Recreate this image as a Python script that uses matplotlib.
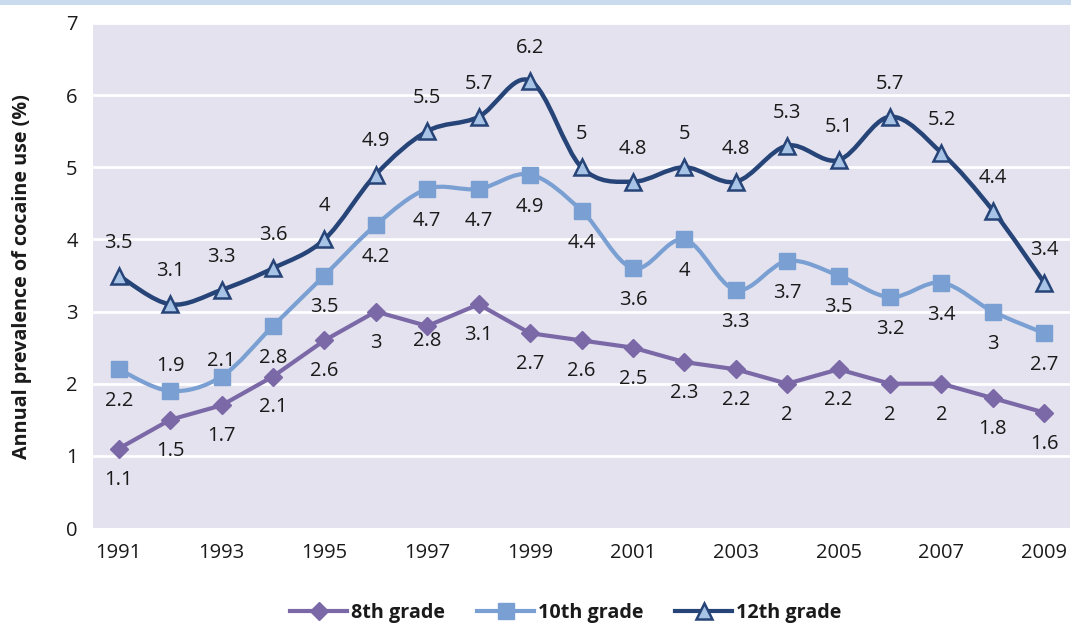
#!/usr/bin/env python3

"""
Annual prevalence of cocaine use by grade, 1991-2009
"""

import numpy as np
import matplotlib.pyplot as plt
from matplotlib.path import Path
from matplotlib.patches import PathPatch, Rectangle
from matplotlib.lines import Line2D

plt.rcParams['font.family'] = ['Open Sans', 'DejaVu Sans']

# Data
years = list(range(1991, 2010))
grade8 = [1.1, 1.5, 1.7, 2.1, 2.6, 3.0, 2.8, 3.1, 2.7, 2.6,
          2.5, 2.3, 2.2, 2.0, 2.2, 2.0, 2.0, 1.8, 1.6]
grade10 = [2.2, 1.9, 2.1, 2.8, 3.5, 4.2, 4.7, 4.7, 4.9, 4.4,
           3.6, 4.0, 3.3, 3.7, 3.5, 3.2, 3.4, 3.0, 2.7]
grade12 = [3.5, 3.1, 3.3, 3.6, 4.0, 4.9, 5.5, 5.7, 6.2, 5.0,
           4.8, 5.0, 4.8, 5.3, 5.1, 5.7, 5.2, 4.4, 3.4]
series_names = ['8th grade', '10th grade', '12th grade']

# Colours
c8 = '#7b69a7'
c10 = '#7a9fd2'
c12 = '#264478'
tri_fill = '#a7c3e5'
bg = '#e3e2ee'
txt = '#1a1a1a'

fs_tick = 14.5
fs_lab = 14.5


def smooth_path(x, y):
    """Excel-like smoothed line (Catmull-Rom as cubic Bezier)"""
    pts = np.column_stack([x, y]).astype(float)
    n = len(pts)
    verts = [pts[0]]
    codes = [Path.MOVETO]
    for i in range(n - 1):
        p0 = pts[i - 1] if i > 0 else pts[i]
        p1 = pts[i]
        p2 = pts[i + 1]
        p3 = pts[i + 2] if i + 2 < n else pts[i + 1]
        verts += [p1 + (p2 - p0) / 6, p2 - (p3 - p1) / 6, p2]
        codes += [Path.CURVE4] * 3
    return Path(verts, codes)


fig = plt.figure(figsize=(10.71, 6.28), dpi=100)
fig.patches.append(Rectangle((0, 1 - 5 / 628), 1, 5 / 628, transform=fig.transFigure,
                             facecolor='#cbdbee', edgecolor='none'))

ax = fig.add_axes([93 / 1071, 1 - 528 / 628, 977 / 1071, 505 / 628])
ax.set_facecolor(bg)
for s in ax.spines.values():
    s.set_visible(False)
ax.set_xlim(1990.5, 2009.5)
ax.set_ylim(0, 7)
ax.set_yticks(range(0, 8))
ax.set_xticks(years[::2])
ax.tick_params(length=0, labelsize=fs_tick, colors=txt)
ax.tick_params(axis='x', pad=11)
ax.tick_params(axis='y', pad=11)
for yv in range(1, 8):
    ax.axhline(yv, color='white', lw=2, zorder=1)

# 8th grade: straight segments
ax.plot(years, grade8, color=c8, lw=3, marker='D', markersize=9,
        markerfacecolor=c8, markeredgecolor=c8, zorder=3, solid_joinstyle='round')

# 10th and 12th grade: smoothed
ax.add_patch(PathPatch(smooth_path(years, grade10), facecolor='none', edgecolor=c10,
                       lw=3, zorder=4, joinstyle='round', capstyle='round'))
ax.plot(years, grade10, linestyle='none', marker='s', markersize=11,
        markerfacecolor=c10, markeredgecolor=c10, zorder=5)

ax.add_patch(PathPatch(smooth_path(years, grade12), facecolor='none', edgecolor=c12,
                       lw=3.2, zorder=6, joinstyle='round', capstyle='round'))
ax.plot(years, grade12, linestyle='none', marker='^', markersize=12,
        markerfacecolor=tri_fill, markeredgecolor=c12, markeredgewidth=1.8, zorder=7)

# Data labels (pixel offsets)
off8 = {1997: -15}
off10 = {1992: 25, 1993: 15}
for yr, v in zip(years, grade8):
    ax.annotate(f'{v:g}', (yr, v), xytext=(0, off8.get(yr, -31)), textcoords='offset pixels',
                ha='center', va='center', fontsize=fs_lab, color=txt, zorder=8)
for yr, v in zip(years, grade10):
    ax.annotate(f'{v:g}', (yr, v), xytext=(0, off10.get(yr, -32)), textcoords='offset pixels',
                ha='center', va='center', fontsize=fs_lab, color=txt, zorder=8)
for yr, v in zip(years, grade12):
    ax.annotate(f'{v:g}', (yr, v), xytext=(0, 33), textcoords='offset pixels',
                ha='center', va='center', fontsize=fs_lab, color=txt, zorder=8)

fig.text(22 / 1071, 1 - 277 / 628, 'Annual prevalence of cocaine use (%)', rotation=90,
         ha='center', va='center', fontsize=14.2, fontweight='bold', color=txt)

handles = [
    Line2D([], [], color=c8, lw=3, marker='D', markersize=9, markerfacecolor=c8),
    Line2D([], [], color=c10, lw=3, marker='s', markersize=11, markerfacecolor=c10),
    Line2D([], [], color=c12, lw=3, marker='^', markersize=12, markerfacecolor=tri_fill,
           markeredgecolor=c12, markeredgewidth=1.8),
]
leg = fig.legend(handles, series_names, loc='center', ncol=3, frameon=False,
                 bbox_to_anchor=(566 / 1071, 1 - 613 / 628),
                 prop={'weight': 'bold', 'size': 14.2}, handlelength=2.9,
                 handletextpad=0.2, columnspacing=1.6)
for t in leg.get_texts():
    t.set_color(txt)

plt.savefig('out.png', dpi=100)
